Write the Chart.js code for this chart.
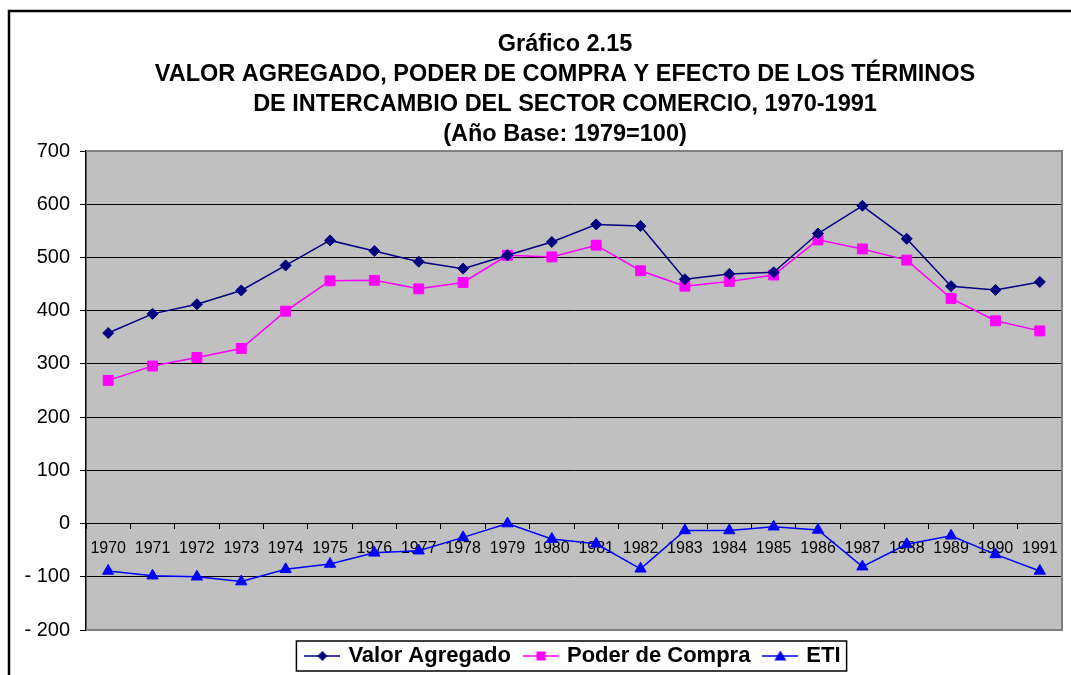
<!DOCTYPE html>
<html>
<head>
<meta charset="utf-8">
<script src="https://cdn.jsdelivr.net/npm/chart.js@4.4.1/dist/chart.umd.min.js"></script>
<style>
    body { margin: 0; background: #fff; }
</style>
</head>
<body>
<canvas id="grafico" width="1071" height="675"></canvas>
<script>
/* Datos del gráfico */
const years = ['1970', '1971', '1972', '1973', '1974', '1975', '1976', '1977', '1978', '1979', '1980',
    '1981', '1982', '1983', '1984', '1985', '1986', '1987', '1988', '1989', '1990', '1991'];
const valorAgregado = [358, 394, 412, 438, 485, 532, 512, 492, 479, 504, 529,
    562, 559, 459, 469, 472, 545, 597, 535, 446, 439, 454];
const poderCompra = [269, 296, 312, 329, 399, 456, 457, 441, 453, 504, 501,
    523, 475, 446, 455, 467, 533, 516, 495, 423, 381, 362];
const eti = [-89, -98, -100, -109, -86, -76, -55, -51, -26, 0, -29,
    -38, -85, -13, -13, -6, -12, -81, -39, -23, -58, -89];
const titleLines = ['Gráfico 2.15',
    'VALOR AGREGADO, PODER DE COMPRA Y EFECTO DE LOS TÉRMINOS',
    'DE INTERCAMBIO DEL SECTOR COMERCIO, 1970-1991',
    '(Año Base: 1979=100)'];

const FONT = 'Arial, "Liberation Sans", sans-serif';

// legend marker: short line with the point in the middle
function legendMarker(color, style) {
    let c = document.createElement('canvas');
    c.width = 36;
    c.height = 14;
    let g = c.getContext('2d');
    g.strokeStyle = color;
    g.fillStyle = color;
    g.lineWidth = 1.5;
    g.beginPath();
    g.moveTo(0, 7);
    g.lineTo(36, 7);
    g.stroke();
    g.beginPath();
    if (style === 'diamond') {
        g.moveTo(18, 2); g.lineTo(23, 7); g.lineTo(18, 12); g.lineTo(13, 7);
    } else if (style === 'square') {
        g.rect(13.5, 2.5, 9, 9);
    } else {
        g.moveTo(18, 1.5); g.lineTo(24, 11.5); g.lineTo(12, 11.5);
    }
    g.closePath();
    g.fill();
    return c;
}

const markers = [
    legendMarker('#000080', 'diamond'),
    legendMarker('#FF00FF', 'square'),
    legendMarker('#0000FF', 'triangle')
];

const plotArea = {
    id: 'plotArea',
    afterLayout(chart) {
        // let the y tick labels use the space left of the narrow axis box
        chart.scales.y.left = 0;
    },
    beforeDraw(chart) {
        let ctx = chart.ctx;
        let a = chart.chartArea;
        ctx.save();
        // outer frame (top and left visible)
        ctx.strokeStyle = '#000';
        ctx.lineWidth = 2.5;
        ctx.beginPath();
        ctx.moveTo(9, 680);
        ctx.lineTo(9, 11);
        ctx.lineTo(1075, 11);
        ctx.stroke();
        ctx.fillStyle = '#C0C0C0';
        ctx.fillRect(a.left, a.top, a.right - a.left, a.bottom - a.top);
        ctx.restore();
    },
    afterDraw(chart) {
        let ctx = chart.ctx;
        let a = chart.chartArea;
        let lg = chart.legend;
        ctx.save();
        ctx.strokeStyle = '#808080';
        ctx.lineWidth = 2;
        ctx.beginPath();
        ctx.moveTo(a.left, a.top);
        ctx.lineTo(a.right, a.top);
        ctx.lineTo(a.right, a.bottom);
        ctx.lineTo(a.left, a.bottom);
        ctx.stroke();
        // legend frame
        let boxes = lg.legendHitBoxes;
        if (boxes && boxes.length) {
            let first = boxes[0];
            let last = boxes[boxes.length - 1];
            ctx.strokeStyle = '#000';
            ctx.lineWidth = 1.5;
            ctx.strokeRect(first.left - 11, 641, last.left + last.width - first.left + 17, 30);
        }
        ctx.restore();
    }
};

let ctx = document.getElementById('grafico').getContext('2d');

let graphic = new Chart(ctx, {
    type: 'line',
    data: {
        labels: years,
        datasets: [
            {
                label: 'Valor Agregado',
                data: valorAgregado,
                borderColor: '#000080',
                backgroundColor: '#000080',
                borderWidth: 1.5,
                pointStyle: 'rectRot',
                pointRadius: 5.5,
                pointBorderWidth: 1
            },
            {
                label: 'Poder de Compra',
                data: poderCompra,
                borderColor: '#FF00FF',
                backgroundColor: '#FF00FF',
                borderWidth: 1.5,
                pointStyle: 'rect',
                pointRadius: 7,
                pointBorderWidth: 1
            },
            {
                label: 'ETI',
                data: eti,
                borderColor: '#0000FF',
                backgroundColor: '#0000FF',
                borderWidth: 1.5,
                pointStyle: 'triangle',
                pointRadius: 6.5,
                pointBorderWidth: 1
            }
        ]
    },
    options: {
        responsive: false,
        animation: false,
        events: [],
        layout: {
            padding: { left: 68, right: 9, top: 0, bottom: -2 }
        },
        plugins: {
            title: {
                display: true,
                text: titleLines,
                color: '#000',
                font: { family: FONT, size: 23.5, weight: 'bold', lineHeight: 30 / 23.5 },
                padding: { top: 30, bottom: 1 }
            },
            legend: {
                position: 'bottom',
                fullSize: false,
                labels: {
                    color: '#000',
                    font: { family: FONT, size: 22, weight: 'bold' },
                    usePointStyle: true,
                    pointStyleWidth: 30,
                    padding: 15,
                    generateLabels: function (chart) {
                        return chart.data.datasets.map(function (ds, i) {
                            return {
                                text: ds.label,
                                pointStyle: markers[i],
                                fillStyle: ds.backgroundColor,
                                strokeStyle: ds.borderColor,
                                lineWidth: 0,
                                datasetIndex: i,
                                fontColor: '#000'
                            };
                        });
                    }
                }
            },
            tooltip: { enabled: false }
        },
        scales: {
            x: {
                position: { y: 0 },
                offset: true,
                grid: {
                    offset: true,
                    drawOnChartArea: false,
                    tickLength: 5,
                    color: '#000'
                },
                border: { display: true, color: '#000' },
                ticks: {
                    color: '#000',
                    font: { family: FONT, size: 16 },
                    padding: 10,
                    maxRotation: 0,
                    autoSkip: false
                }
            },
            y: {
                min: -200,
                max: 700,
                afterFit: function (scale) {
                    scale.width = 18;
                },
                grid: {
                    color: function (c) {
                        if (c.tick && (c.tick.value === 700 || c.tick.value === -200)) {
                            return '#808080';
                        }
                        return '#000';
                    },
                    tickColor: '#000',
                    tickLength: 6,
                    lineWidth: 1
                },
                border: { display: true, color: '#000', width: 1.5 },
                ticks: {
                    stepSize: 100,
                    color: '#000',
                    font: { family: FONT, size: 20 },
                    padding: 10,
                    callback: function (v) {
                        return v < 0 ? '- ' + Math.abs(v) : v;
                    }
                }
            }
        }
    },
    plugins: [plotArea]
});
</script>
</body>
</html>
